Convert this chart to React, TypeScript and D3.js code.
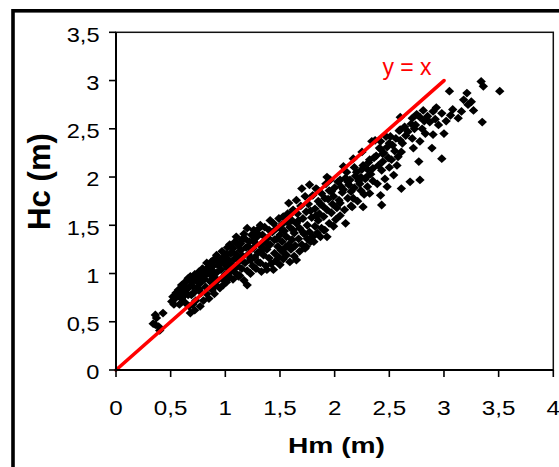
import React from "react";
import * as d3 from "d3";

// Measured height Hm (m) vs computed height Hc (m)
const hm: number[] = [
  0.34, 0.36, 0.37, 0.39, 0.40, 0.43, 0.36,
  0.51, 0.52, 0.54, 0.55, 0.53,
  0.57, 0.58, 0.60, 0.60, 0.62, 0.62, 0.63, 0.64, 0.58, 0.65,
  0.66, 0.67, 0.68, 0.68, 0.69, 0.70, 0.71, 0.72, 0.72, 0.73, 0.74, 0.75, 0.70, 0.66,
  0.76, 0.77, 0.77, 0.78, 0.79, 0.80, 0.80, 0.81, 0.82, 0.83, 0.83, 0.84, 0.85, 0.85, 0.76, 0.79,
  0.86, 0.87, 0.88, 0.88, 0.89, 0.90, 0.91, 0.92, 0.92, 0.93, 0.94, 0.95, 0.95, 0.87, 0.90,
  0.96, 0.97, 0.97, 0.98, 0.99, 1.00, 1.00, 1.01, 1.02, 1.02, 1.03, 1.04, 1.04, 1.05, 1.05, 0.98,
  1.06, 1.07, 1.07, 1.08, 1.09, 1.09, 1.10, 1.10, 1.11, 1.12, 1.12, 1.13, 1.13, 1.14, 1.15, 1.15,
  1.16, 1.17, 1.17, 1.18, 1.19, 1.20, 1.20, 1.20, 1.21, 1.22, 1.23, 1.23, 1.24, 1.25, 1.25, 1.23,
  1.26, 1.27, 1.28, 1.28, 1.29, 1.30, 1.30, 1.31, 1.32, 1.32, 1.33, 1.33, 1.34, 1.35, 1.35,
  1.36, 1.37, 1.38, 1.38, 1.39, 1.40, 1.41, 1.41, 1.42, 1.43, 1.44, 1.44, 1.45, 1.45,
  1.46, 1.47, 1.48, 1.49, 1.49, 1.50, 1.50, 1.51, 1.52, 1.52, 1.53, 1.53, 1.54, 1.55, 1.55,
  1.56, 1.56, 1.57, 1.58, 1.58, 1.59, 1.59, 1.60, 1.61, 1.61, 1.62, 1.63, 1.63, 1.64, 1.65, 1.65, 1.65,
  1.66, 1.67, 1.68, 1.68, 1.69, 1.70, 1.70, 1.71, 1.72, 1.73, 1.73, 1.74, 1.74, 1.75, 1.75,
  1.76, 1.77, 1.77, 1.78, 1.79, 1.80, 1.80, 1.81, 1.82, 1.82, 1.83, 1.84, 1.84, 1.85, 1.85,
  1.86, 1.87, 1.88, 1.88, 1.89, 1.90, 1.90, 1.91, 1.92, 1.93, 1.93, 1.93, 1.94, 1.95, 1.95,
  1.96, 1.97, 1.98, 1.99, 1.99, 2.00, 2.01, 2.02, 2.03, 2.04, 2.05, 2.05, 2.05,
  2.07, 2.08, 2.08, 2.09, 2.10, 2.10, 2.11, 2.12, 2.13, 2.14, 2.15, 2.15,
  2.16, 2.17, 2.17, 2.18, 2.19, 2.20, 2.21, 2.22, 2.23, 2.24, 2.25, 2.25,
  2.26, 2.26, 2.27, 2.28, 2.29, 2.30, 2.31, 2.32, 2.32, 2.33, 2.34, 2.35, 2.35,
  2.37, 2.38, 2.39, 2.40, 2.41, 2.42, 2.42, 2.42, 2.43, 2.43, 2.44, 2.45,
  2.46, 2.47, 2.48, 2.48, 2.49, 2.50, 2.51, 2.52, 2.53, 2.54, 2.55,
  2.57, 2.58, 2.59, 2.60, 2.60, 2.60, 2.61, 2.61, 2.62, 2.64, 2.65,
  2.67, 2.69, 2.70, 2.71, 2.71, 2.72, 2.73, 2.74, 2.75,
  2.77, 2.78, 2.78, 2.78, 2.80, 2.81, 2.82, 2.83, 2.85,
  2.87, 2.89, 2.90, 2.90, 2.92, 2.95, 2.93,
  2.98, 2.98, 3.00, 3.02, 3.05, 3.06, 3.08,
  3.13, 3.16, 3.18, 3.21, 3.22, 3.27, 3.25,
  3.34, 3.36, 3.35, 3.51,
  0.61, 0.67, 0.71, 0.74, 0.78, 0.82, 0.86, 0.89, 0.93, 0.96, 0.63, 0.69,
  1.01, 1.06, 1.11, 1.14, 1.18, 1.21, 1.26, 1.29, 1.34, 1.37, 1.40, 1.08,
  1.47, 1.51, 1.57, 1.62, 1.67, 1.71, 1.78, 1.83, 1.87, 1.91, 1.97, 1.60,
  2.06, 2.12, 2.18, 2.24, 2.30, 2.36, 2.44, 2.50, 2.56,
];

const hc: number[] = [
  0.48, 0.57, 0.54, 0.45, 0.41, 0.59, 0.47,
  0.71, 0.76, 0.74, 0.80, 0.68,
  0.83, 0.76, 0.74, 0.88, 0.88, 0.79, 0.70, 0.92, 0.68, 0.84,
  0.95, 0.66, 0.59, 0.97, 0.78, 0.87, 0.93, 0.62, 0.99, 0.72, 0.85, 0.96, 0.68, 0.78,
  1.02, 0.66, 0.90, 0.80, 1.05, 1.04, 0.72, 0.94, 0.86, 1.11, 0.79, 1.00, 0.74, 1.07, 0.84, 0.95,
  0.92, 1.12, 0.83, 1.03, 0.96, 1.15, 0.88, 1.19, 1.01, 0.93, 1.08, 0.85, 1.13, 0.99, 0.79,
  1.04, 1.23, 0.95, 0.88, 1.10, 1.18, 0.99, 0.91, 1.27, 1.06, 1.14, 1.30, 0.96, 1.02, 1.21, 1.16,
  1.09, 0.94, 1.26, 1.15, 1.33, 1.01, 1.38, 1.20, 1.08, 0.97, 1.29, 0.98, 1.13, 1.24, 1.35, 1.05,
  1.18, 0.93, 1.41, 1.11, 1.27, 0.88, 1.47, 1.03, 1.20, 1.33, 1.14, 1.00, 1.40, 1.26, 1.08, 1.16,
  1.45, 1.17, 1.31, 1.05, 1.38, 1.22, 1.12, 1.47, 1.50, 1.11, 1.28, 1.02, 1.40, 1.19, 1.33,
  1.48, 1.08, 1.04, 1.25, 1.37, 1.16, 1.55, 1.30, 1.10, 1.43, 1.52, 1.04, 1.21, 1.35,
  1.13, 1.47, 1.28, 1.57, 1.17, 1.09, 1.40, 1.24, 1.51, 1.33, 1.59, 1.15, 1.44, 1.27, 1.20,
  1.19, 1.38, 1.62, 1.73, 1.30, 1.12, 1.48, 1.25, 1.55, 1.35, 1.66, 1.18, 1.42, 1.29, 1.76, 1.14, 1.52,
  1.62, 1.36, 1.23, 1.47, 1.70, 1.88, 1.30, 1.57, 1.41, 1.80, 1.26, 1.28, 1.64, 1.50, 1.36,
  1.72, 1.92, 1.43, 1.33, 1.58, 1.81, 1.38, 1.33, 1.67, 1.49, 1.88, 1.87, 1.42, 1.55, 1.75,
  1.62, 1.38, 1.83, 1.47, 1.70, 1.45, 1.59, 1.45, 1.93, 2.00, 1.66, 1.38, 1.77, 1.52, 1.86,
  1.97, 1.63, 1.72, 1.80, 1.49, 1.89, 1.56, 1.68, 1.95, 1.76, 1.97, 1.73, 1.60,
  1.84, 1.87, 2.11, 1.66, 1.52, 1.99, 2.05, 1.78, 1.92, 1.97, 1.70, 1.85,
  1.69, 1.78, 2.19, 1.89, 2.01, 2.05, 1.75, 1.96, 1.93, 1.86, 2.26, 2.08,
  1.69, 2.12, 1.82, 1.98, 2.00, 1.90, 2.15, 1.83, 2.18, 2.03, 2.37, 2.09, 1.96,
  2.38, 2.22, 1.93, 2.12, 2.30, 1.81, 2.29, 2.37, 1.71, 2.07, 2.16, 2.25,
  1.98, 2.42, 2.31, 1.90, 2.20, 2.10, 2.42, 2.18, 2.33, 2.02, 2.27,
  2.12, 2.21, 2.48, 2.38, 2.49, 2.62, 1.88, 2.26, 2.35, 2.52, 2.43,
  2.47, 1.95, 2.55, 2.61, 2.40, 2.30, 2.50, 2.54, 2.65,
  2.16, 1.97, 2.37, 2.62, 2.50, 2.69, 2.58, 2.45, 2.63,
  2.57, 2.30, 2.44, 2.68, 2.60, 2.54, 2.72,
  2.66, 2.19, 2.45, 2.58, 2.89, 2.64, 2.70,
  2.61, 2.68, 2.80, 2.87, 2.75, 2.69, 2.78,
  2.99, 2.94, 2.57, 2.89,
  0.82, 0.86, 0.80, 0.92, 0.98, 0.99, 1.04, 1.08, 1.12, 1.15, 0.78, 0.91,
  1.20, 1.22, 1.17, 1.31, 1.36, 1.28, 1.35, 1.42, 1.25, 1.32, 1.45, 1.05,
  1.36, 1.46, 1.53, 1.45, 1.55, 1.43, 1.65, 1.60, 1.72, 1.78, 1.85, 1.62,
  1.90, 1.95, 2.10, 2.00, 2.08, 2.20, 2.24, 2.35, 2.40,
];

const lineX: number[] = [0, 3];
const lineY: number[] = [0, 3];

const xTicks: number[] = [0, 0.5, 1, 1.5, 2, 2.5, 3, 3.5, 4];
const xTickLabels: string[] = ["0", "0,5", "1", "1,5", "2", "2,5", "3", "3,5", "4"];
const yTicks: number[] = [0, 0.5, 1, 1.5, 2, 2.5, 3, 3.5];
const yTickLabels: string[] = ["0", "0,5", "1", "1,5", "2", "2,5", "3", "3,5"];

const W = 559;
const H = 467;
const PL = 116;
const PR = 553.3;
const PT = 32.3;
const PB = 370;
const FONT = "'Liberation Sans', Arial, sans-serif";
const SX = 1.18;

export default function App() {
  const x = d3.scaleLinear().domain([0, 4]).range([PL, PR]);
  const y = d3.scaleLinear().domain([0, 3.5]).range([PB, PT]);
  const pts = hm.map((v, i) => [v, hc[i]] as [number, number]);
  const line = d3
    .line<number>()
    .x((_, i) => x(lineX[i]))
    .y((_, i) => y(lineY[i]));
  const rx = 4.7;
  const ry = 4.4;
  const diamond = `M0,${-ry}L${rx},0L0,${ry}L${-rx},0Z`;

  return (
    <svg
      width={W}
      height={H}
      style={{ position: "absolute", left: 0, top: 0, background: "#fff" }}
    >
      <rect x={0} y={0} width={W} height={H} fill="#fff" />
      {/* outer frame */}
      <rect x={13} y={10.8} width={700} height={700} fill="none" stroke="#000" strokeWidth={3.6} />
      {/* plot area border */}
      <rect x={PL} y={PT} width={PR - PL} height={PB - PT} fill="none" stroke="#111" strokeWidth={1.5} />
      {/* points */}
      <g>
        {pts.map((p, i) => (
          <path key={i} d={diamond} transform={`translate(${x(p[0])},${y(p[1])})`} fill="#000" />
        ))}
      </g>
      {/* y = x line */}
      <path d={line(lineX) || ""} fill="none" stroke="#ff0000" strokeWidth={3.6} strokeLinecap="round" />
      {/* axes */}
      <line x1={PL} x2={PL} y1={PT} y2={PB} stroke="#000" strokeWidth={2} />
      <line x1={PL} x2={PR} y1={PB} y2={PB} stroke="#000" strokeWidth={2} />
      {yTicks.map((t, i) => (
        <g key={"y" + i}>
          <line x1={PL - 7} x2={PL} y1={y(t)} y2={y(t)} stroke="#000" strokeWidth={1.6} />
          <text
            transform={`translate(99.5,${y(t) + 9.3}) scale(${SX},1)`}
            textAnchor="end"
            fontFamily={FONT}
            fontSize={20}
            fill="#000"
          >
            {yTickLabels[i]}
          </text>
        </g>
      ))}
      {xTicks.map((t, i) => (
        <g key={"x" + i}>
          <line x1={x(t)} x2={x(t)} y1={PB} y2={PB + 7} stroke="#000" strokeWidth={1.6} />
          <text
            transform={`translate(${x(t)},415) scale(${SX},1)`}
            textAnchor="middle"
            fontFamily={FONT}
            fontSize={20.5}
            fill="#000"
          >
            {xTickLabels[i]}
          </text>
        </g>
      ))}
      <text x={407} y={75} textAnchor="middle" fontFamily={FONT} fontSize={23} fill="#ff0000">
        y = x
      </text>
      <text
        x={336.5}
        y={453}
        textAnchor="middle"
        fontFamily={FONT}
        fontSize={22}
        fontWeight="bold"
        fill="#000"
        textLength={97}
        lengthAdjust="spacingAndGlyphs"
      >
        Hm (m)
      </text>
      <text
        transform={`translate(50,181.5) rotate(-90)`}
        textAnchor="middle"
        fontFamily={FONT}
        fontSize={31}
        fontWeight="bold"
        fill="#000"
        textLength={97}
        lengthAdjust="spacingAndGlyphs"
      >
        Hc (m)
      </text>
    </svg>
  );
}
